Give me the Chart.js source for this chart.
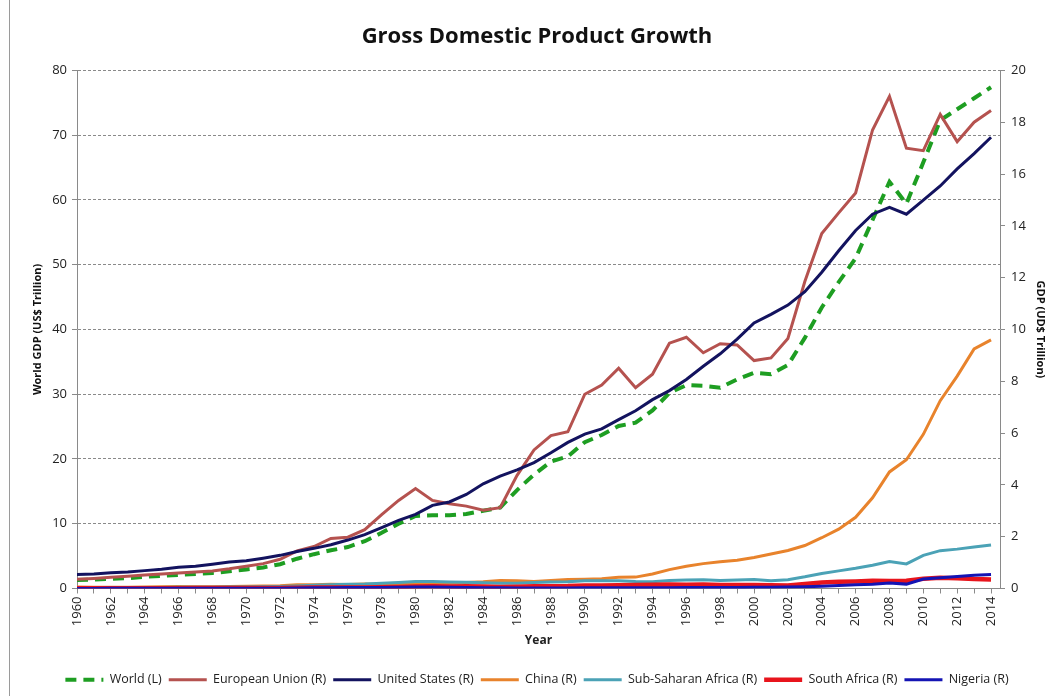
<!DOCTYPE html>
<html>
<head>
<meta charset="utf-8">
<title>Gross Domestic Product Growth</title>
<script src="https://cdn.jsdelivr.net/npm/chart.js@4/dist/chart.umd.min.js"></script>
<style>
  html, body { margin: 0; padding: 0; background: #fff; }
  #wrap { width: 1060px; height: 696px; position: relative; }
</style>
</head>
<body>
<div id="wrap"><canvas id="chart"></canvas></div>
<script>
const years = [];
for (let y = 1960; y <= 2014; y++) years.push(y);

// World GDP, US$ trillion (left axis)
const world = [
  1.3, 1.4, 1.5, 1.6, 1.8, 1.95, 2.1, 2.25, 2.4, 2.65,
  2.95, 3.25, 3.75, 4.6, 5.3, 5.9, 6.4, 7.3, 8.6, 10.0,
  11.2, 11.3, 11.3, 11.5, 12.0, 12.5, 15.2, 17.6, 19.6, 20.4,
  22.6, 23.7, 25.1, 25.6, 27.5, 30.2, 31.4, 31.3, 31.0, 32.3,
  33.3, 33.1, 34.5, 38.7, 43.4, 47.3, 51.0, 56.9, 62.8, 59.4,
  65.8, 72.3, 74.0, 75.7, 77.4
];

// right axis series, US$ trillion
const eu = [
  0.36, 0.39, 0.43, 0.47, 0.52, 0.56, 0.60, 0.64, 0.68, 0.76,
  0.86, 0.96, 1.13, 1.45, 1.62, 1.93, 1.98, 2.27, 2.85, 3.40,
  3.86, 3.40, 3.27, 3.18, 3.02, 3.12, 4.37, 5.35, 5.90, 6.05,
  7.50, 7.85, 8.50, 7.75, 8.27, 9.47, 9.70, 9.10, 9.45, 9.40,
  8.80, 8.90, 9.65, 11.85, 13.7, 14.5, 15.27, 17.7, 19.0, 17.0,
  16.9, 18.3, 17.25, 18.0, 18.45
];
const us = [
  0.54, 0.56, 0.61, 0.64, 0.69, 0.74, 0.82, 0.86, 0.94, 1.02,
  1.07, 1.17, 1.28, 1.43, 1.55, 1.69, 1.87, 2.08, 2.35, 2.63,
  2.86, 3.21, 3.34, 3.63, 4.04, 4.34, 4.58, 4.86, 5.24, 5.64,
  5.96, 6.16, 6.52, 6.86, 7.29, 7.64, 8.07, 8.58, 9.06, 9.63,
  10.25, 10.58, 10.94, 11.46, 12.21, 13.04, 13.82, 14.45, 14.71, 14.45,
  14.99, 15.54, 16.2, 16.79, 17.42
];
const china = [
  0.06, 0.05, 0.05, 0.05, 0.06, 0.07, 0.08, 0.07, 0.07, 0.08,
  0.09, 0.10, 0.11, 0.14, 0.14, 0.16, 0.15, 0.17, 0.15, 0.18,
  0.19, 0.20, 0.20, 0.23, 0.26, 0.31, 0.30, 0.27, 0.31, 0.35,
  0.36, 0.38, 0.43, 0.44, 0.56, 0.73, 0.86, 0.96, 1.03, 1.09,
  1.20, 1.33, 1.47, 1.66, 1.96, 2.29, 2.75, 3.50, 4.50, 4.97,
  5.95, 7.25, 8.20, 9.25, 9.60
];
const subSaharan = [
  0.03, 0.03, 0.03, 0.03, 0.04, 0.04, 0.05, 0.05, 0.05, 0.06,
  0.06, 0.07, 0.08, 0.10, 0.13, 0.14, 0.16, 0.17, 0.20, 0.23,
  0.27, 0.27, 0.25, 0.24, 0.22, 0.20, 0.20, 0.23, 0.25, 0.26,
  0.30, 0.30, 0.30, 0.27, 0.26, 0.31, 0.33, 0.34, 0.31, 0.33,
  0.35, 0.30, 0.34, 0.45, 0.58, 0.68, 0.78, 0.90, 1.04, 0.95,
  1.28, 1.46, 1.52, 1.60, 1.68
];
const southAfrica = [
  0.008, 0.008, 0.009, 0.010, 0.011, 0.012, 0.013, 0.015, 0.016, 0.018,
  0.020, 0.020, 0.023, 0.030, 0.038, 0.040, 0.038, 0.042, 0.048, 0.060,
  0.080, 0.085, 0.077, 0.086, 0.076, 0.057, 0.064, 0.084, 0.090, 0.093,
  0.112, 0.120, 0.130, 0.134, 0.140, 0.155, 0.148, 0.152, 0.137, 0.136,
  0.136, 0.121, 0.116, 0.176, 0.229, 0.258, 0.272, 0.299, 0.287, 0.297,
  0.375, 0.416, 0.397, 0.366, 0.351
];
const nigeria = [
  0.004, 0.004, 0.005, 0.005, 0.005, 0.006, 0.006, 0.005, 0.005, 0.007,
  0.013, 0.010, 0.012, 0.015, 0.025, 0.028, 0.036, 0.036, 0.037, 0.047,
  0.060, 0.060, 0.050, 0.040, 0.030, 0.030, 0.020, 0.020, 0.020, 0.020,
  0.030, 0.030, 0.030, 0.030, 0.030, 0.030, 0.035, 0.035, 0.035, 0.035,
  0.046, 0.044, 0.059, 0.067, 0.088, 0.112, 0.146, 0.166, 0.208, 0.169,
  0.369, 0.411, 0.460, 0.515, 0.545
];

const leftTicks = [0, 10, 20, 30, 40, 50, 60, 70, 80];
const rightTicks = [0, 2, 4, 6, 8, 10, 12, 14, 16, 18, 20];

const font = "'Open Sans', 'DejaVu Sans', sans-serif";

const series = [
  { label: 'World (L)', data: world, color: '#1E9E22', width: 4, dash: [11, 7], axis: 'yL' },
  { label: 'European Union (R)', data: eu, color: '#B5524F', width: 3, axis: 'yR' },
  { label: 'United States (R)', data: us, color: '#13135F', width: 3, axis: 'yR' },
  { label: 'China (R)', data: china, color: '#E8832C', width: 3, axis: 'yR' },
  { label: 'Sub-Saharan Africa (R)', data: subSaharan, color: '#4BA2B6', width: 3, axis: 'yR' },
  { label: 'South Africa (R)', data: southAfrica, color: '#E8141C', width: 4.5, axis: 'yR' },
  { label: 'Nigeria (R)', data: nigeria, color: '#1414B4', width: 3, axis: 'yR' }
];

const datasets = series.map((s, i) => ({
  label: s.label,
  data: years.map((yr, k) => ({ x: yr, y: s.data[k] })),
  borderColor: s.color,
  backgroundColor: s.color,
  borderWidth: s.width,
  borderDash: s.dash || [],
  pointRadius: 0,
  tension: 0,
  yAxisID: s.axis,
  order: series.length - i   // later series are drawn on top
}));

// thin frame line on the left edge of the chart
const frame = {
  id: 'frame',
  beforeDraw(chart) {
    const ctx = chart.ctx;
    ctx.save();
    ctx.strokeStyle = '#9a9a9a';
    ctx.lineWidth = 1;
    ctx.beginPath();
    ctx.moveTo(9.5, 0);
    ctx.lineTo(9.5, chart.height);
    ctx.stroke();
    ctx.restore();
  }
};

new Chart(document.getElementById('chart'), {
  type: 'line',
  data: { datasets },
  plugins: [frame],
  options: {
    responsive: true,
    maintainAspectRatio: false,
    animation: false,
    layout: { padding: { left: 14, right: 0, top: 0, bottom: 0 } },
    plugins: {
      title: {
        display: true,
        text: 'Gross Domestic Product Growth',
        color: '#111',
        font: { family: font, size: 22, weight: 'bold' },
        padding: { top: 24, bottom: 20 }
      },
      legend: {
        position: 'bottom',
        reverse: true,
        labels: {
          usePointStyle: true,
          pointStyle: 'line',
          pointStyleWidth: 38,
          boxHeight: 12,
          padding: 7,
          color: '#222',
          font: { family: font, size: 12.5 },
          generateLabels(chart) {
            const items = Chart.defaults.plugins.legend.labels.generateLabels(chart);
            items.forEach(it => {
              const ds = chart.data.datasets[it.datasetIndex];
              it.lineDash = ds.borderDash;
              it.lineWidth = ds.borderWidth;
              it.strokeStyle = ds.borderColor;
            });
            return items;
          }
        }
      },
      tooltip: { enabled: false }
    },
    scales: {
      x: {
        type: 'linear',
        min: 1960,
        max: 2014.53,
        afterBuildTicks(scale) {
          scale.ticks = years.map(v => ({ value: v }));
        },
        afterFit(scale) { scale.height = 78; },
        ticks: {
          autoSkip: false,
          minRotation: 90,
          maxRotation: 90,
          padding: 3,
          color: '#222',
          font: { family: font, size: 13 },
          callback: v => (v % 2 === 0 ? String(v) : '')
        },
        grid: { drawOnChartArea: false, tickLength: 5, color: '#8a8a8a' },
        border: { color: '#8a8a8a' },
        title: {
          display: true,
          text: 'Year',
          color: '#222',
          font: { family: font, size: 12, weight: 'bold' },
          padding: { top: 0, bottom: 19 }
        }
      },
      yL: {
        position: 'left',
        min: 0,
        max: 80,
        afterBuildTicks(scale) {
          scale.ticks = leftTicks.map(v => ({ value: v }));
        },
        afterFit(scale) { scale.width = 63; },
        ticks: { color: '#222', padding: 5, font: { family: font, size: 13 } },
        grid: { color: '#8a8a8a', tickLength: 5 },
        border: { color: '#8a8a8a', dash: [3, 2] },
        title: {
          display: true,
          text: 'World GDP (US$ Trillion)',
          color: '#111',
          font: { family: font, size: 11, weight: 'bold' },
          padding: { top: 17, bottom: 0 }
        }
      },
      yR: {
        position: 'right',
        min: 0,
        max: 20,
        afterBuildTicks(scale) {
          scale.ticks = rightTicks.map(v => ({ value: v }));
        },
        afterFit(scale) { scale.width = 60; },
        ticks: { color: '#222', padding: 6, font: { family: font, size: 13 } },
        grid: { drawOnChartArea: false, color: '#8a8a8a', tickLength: 5 },
        border: { color: '#8a8a8a' },
        title: {
          display: true,
          text: 'GDP (UD$ Trillion)',
          color: '#111',
          font: { family: font, size: 11, weight: 'bold' },
          padding: { top: 13, bottom: 0 }
        }
      }
    }
  }
});
</script>
</body>
</html>
